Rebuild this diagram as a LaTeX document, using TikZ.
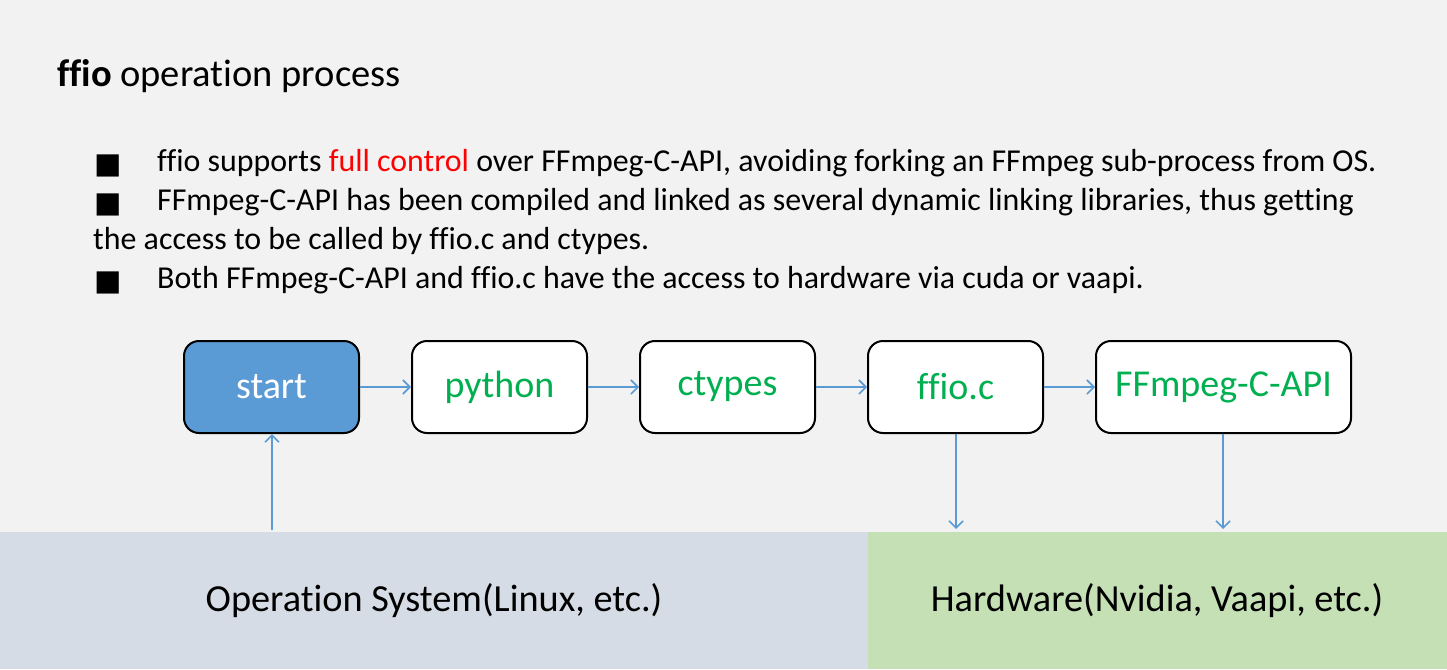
\documentclass[tikz,border=0pt]{standalone}
\usepackage{fontspec}
\setmainfont{Carlito}[Ligatures=NoCommon]
\newfontfamily\symfont{DejaVu Sans}
\usetikzlibrary{positioning,arrows.meta}

\definecolor{pagegray}{HTML}{F2F2F2}
\definecolor{osblue}{HTML}{D6DCE5}
\definecolor{hwgreen}{HTML}{C5E0B4}
\definecolor{startblue}{HTML}{5B9BD5}
\definecolor{linkblue}{HTML}{5B9BD5}
\definecolor{txtgreen}{HTML}{00B050}

\tikzset{
	stagebox/.style={draw=black, line width=2pt, rounded corners=15pt, fill=white,
		minimum height=92pt, text=txtgreen, font=\fontsize{38}{44}\selectfont, inner sep=0pt},
	link/.style={draw=linkblue, line width=1.6pt, -{Straight Barb[length=7pt,width=14pt]}},
	bullet/.style={anchor=base west, inner sep=0pt, font=\fontsize{31.9}{39}\selectfont},
	layer/.style={font=\fontsize{38.3}{44}\selectfont, inner sep=0pt}
}

\begin{document}
\begin{tikzpicture}[x=1pt, y=-1pt, node distance=51pt]
	%background
	\fill[pagegray] (0, 0) rectangle (1447, 669);
	\useasboundingbox (0, 0) rectangle (1447, 669);
	\fill[osblue] (0, 532) rectangle (868, 669);
	\fill[hwgreen] (868, 532) rectangle (1447, 669);

	%title
	\node[anchor=base west, inner sep=0pt, font=\fontsize{38.5}{44}\selectfont] (title) at (57, 86)
		{\textbf{ffio} operation process};

	%bullets
	\foreach \y/\name in {173/b1, 212/b2, 290/b4}
		\node[bullet] (sq\name) at (94, \y) {\symfont\fontsize{29}{34}\selectfont ■};
	\node[bullet] (b1) at (157, 171)
		{ffio supports \textcolor{red}{full control} over FFmpeg-C-API, avoiding forking an FFmpeg sub-process from OS.};
	\node[bullet] (b2) at (157, 210)
		{FFmpeg-C-API has been compiled and linked as several dynamic linking libraries, thus getting};
	\node[bullet] (b3) at (93, 249) {the access to be called by ffio.c and ctypes.};
	\node[bullet] (b4) at (157, 288)
		{Both FFmpeg-C-API and ffio.c have the access to hardware via cuda or vaapi.};

	%flow
	\node[stagebox, minimum width=175pt, fill=startblue, text=white] (start) at (271.5, 387) {start};
	\node[stagebox, minimum width=175pt, right=of start] (python) {python};
	\node[stagebox, minimum width=175pt, right=of python] (ctypes) {ctypes};
	\node[stagebox, minimum width=175pt, right=of ctypes] (ffioc) {ffio.c};
	\node[stagebox, minimum width=255pt, right=of ffioc] (ffmpeg) {FFmpeg-C-API};
	\foreach \a/\b in {start/python, python/ctypes, ctypes/ffioc, ffioc/ffmpeg}
		\draw[link] (\a) -- (\b);

	%layers
	\node[layer] (os) at (434, 601) {Operation System(Linux, etc.)};
	\node[layer] (hw) at (1157, 601) {Hardware(Nvidia, Vaapi, etc.)};
	\coordinate (osup) at (272, 530);
	\coordinate (hwa) at (956, 529);
	\coordinate (hwb) at (1223, 529);
	\draw[link] (osup) -- (start.south -| osup);
	\draw[link] (ffioc.south -| hwa) -- (hwa);
	\draw[link] (ffmpeg.south -| hwb) -- (hwb);
\end{tikzpicture}
\end{document}
